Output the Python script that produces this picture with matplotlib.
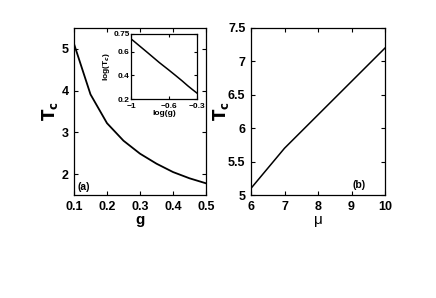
import numpy as np
import matplotlib.pyplot as plt

plt.switch_backend("Agg")
plt.rcParams["font.family"] = ["Liberation Sans", "DejaVu Sans"]
plt.rcParams["font.weight"] = "bold"

# panel (a): Tc vs g
g = [0.1, 0.15, 0.2, 0.25, 0.3, 0.35, 0.4, 0.45, 0.5]
tc_g = [5.12, 3.91, 3.22, 2.8, 2.49, 2.25, 2.05, 1.9, 1.78]

# panel (b): Tc vs mu
mu = [6, 7, 8, 9, 10]
tc_mu = [5.1, 5.7, 6.2, 6.7, 7.2]

W, H = 436, 298
fig = plt.figure(figsize=(W / 100, H / 100), dpi=100)


def box(l, t, r, b):
    return [l / W, 1 - b / H, (r - l) / W, (b - t) / H]


def style(ax, size):
    ax.tick_params(direction="in", top=True, right=True, labelsize=size,
                   length=3, width=0.8)
    for s in ax.spines.values():
        s.set_linewidth(0.9)
    for lab in ax.get_xticklabels() + ax.get_yticklabels():
        lab.set_fontweight("bold")


ax1 = fig.add_axes(box(74, 28, 206, 195))
ax1.plot(g, tc_g, color="black", lw=1.3)
ax1.set_xlim(0.1, 0.5)
ax1.set_ylim(1.5, 5.5)
ax1.set_xticks([0.1, 0.2, 0.3, 0.4, 0.5])
ax1.set_yticks([2, 3, 4, 5])
style(ax1, 9)
ax1.tick_params(pad=4)
ax1.set_xlabel("g", fontsize=11, fontweight="bold", labelpad=0)
ax1.set_ylabel(r"$\mathbf{T_c}$", fontsize=12)
ax1.yaxis.label.set_verticalalignment("center")
ax1.yaxis.set_label_coords(-0.18, 0.5)
ax1.text(0.03, 0.03, "(a)", transform=ax1.transAxes, fontsize=7.5,
         fontweight="bold")

ax_in = fig.add_axes(box(131, 34, 197, 99))
ax_in.plot(np.log10(g), np.log10(tc_g), color="black", lw=1.1)
ax_in.set_xlim(-1, -0.3)
ax_in.set_ylim(0.2, 0.75)
ax_in.set_xticks([-1, -0.6, -0.3])
ax_in.set_xticklabels(["\u22121", "\u22120.6", "\u22120.3"])
ax_in.set_yticks([0.2, 0.4, 0.6, 0.75])
ax_in.set_yticklabels(["0.2", "0.4", "0.6", "0.75"])
style(ax_in, 6)
ax_in.tick_params(length=2)
ax_in.tick_params(axis="x", pad=3)
ax_in.tick_params(axis="y", pad=1)
ax_in.set_xlabel("log(g)", fontsize=6, fontweight="bold", labelpad=0)
ax_in.set_ylabel(r"log(T$_c$)", fontsize=6, fontweight="bold", labelpad=1)

ax2 = fig.add_axes(box(251, 28, 385, 195))
ax2.plot(mu, tc_mu, color="black", lw=1.1)
ax2.set_xlim(6, 10)
ax2.set_ylim(5, 7.5)
ax2.set_xticks([6, 7, 8, 9, 10])
ax2.set_yticks([5, 5.5, 6, 6.5, 7, 7.5])
ax2.set_yticklabels(["5", "5.5", "6", "6.5", "7", "7.5"])
style(ax2, 9)
ax2.tick_params(pad=4)
ax2.set_xlabel("\u03bc", fontsize=11, fontweight="normal", labelpad=0)
ax2.set_ylabel(r"$\mathbf{T_c}$", fontsize=12)
ax2.yaxis.label.set_verticalalignment("center")
ax2.yaxis.set_label_coords(-0.224, 0.5)
ax2.text(0.755, 0.04, "(b)", transform=ax2.transAxes, fontsize=7.5,
         fontweight="bold")

fig.savefig("out.png", dpi=100)
